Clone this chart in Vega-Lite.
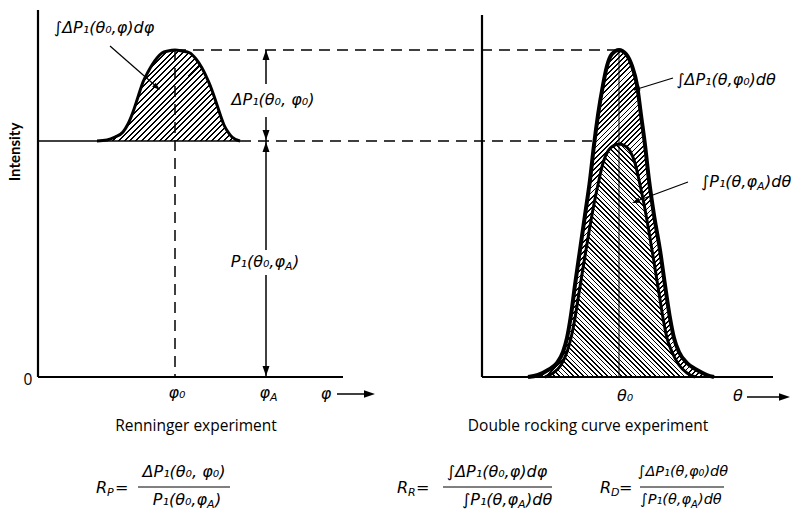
{
"$schema":"https://vega.github.io/schema/vega-lite/v6.json",
"width":795,"height":511,
"autosize":{"type":"fit","contains":"padding"},
"padding":0,
"background":"white",
"config":{"view":{"stroke":null}},
"params":[{"name":"hatch","value":[
{"offset":0,"color":"#000"},{"offset":0.0035,"color":"#000"},{"offset":0.0035,"color":"#fff"},{"offset":0.01,"color":"#fff"},
{"offset":0.01,"color":"#000"},{"offset":0.0135,"color":"#000"},{"offset":0.0135,"color":"#fff"},{"offset":0.02,"color":"#fff"},
{"offset":0.02,"color":"#000"},{"offset":0.0235,"color":"#000"},{"offset":0.0235,"color":"#fff"},{"offset":0.03,"color":"#fff"},
{"offset":0.03,"color":"#000"},{"offset":0.0335,"color":"#000"},{"offset":0.0335,"color":"#fff"},{"offset":0.04,"color":"#fff"},
{"offset":0.04,"color":"#000"},{"offset":0.0435,"color":"#000"},{"offset":0.0435,"color":"#fff"},{"offset":0.05,"color":"#fff"},
{"offset":0.05,"color":"#000"},{"offset":0.0535,"color":"#000"},{"offset":0.0535,"color":"#fff"},{"offset":0.06,"color":"#fff"},
{"offset":0.06,"color":"#000"},{"offset":0.0635,"color":"#000"},{"offset":0.0635,"color":"#fff"},{"offset":0.07,"color":"#fff"},
{"offset":0.07,"color":"#000"},{"offset":0.0735,"color":"#000"},{"offset":0.0735,"color":"#fff"},{"offset":0.08,"color":"#fff"},
{"offset":0.08,"color":"#000"},{"offset":0.0835,"color":"#000"},{"offset":0.0835,"color":"#fff"},{"offset":0.09,"color":"#fff"},
{"offset":0.09,"color":"#000"},{"offset":0.0935,"color":"#000"},{"offset":0.0935,"color":"#fff"},{"offset":0.1,"color":"#fff"},
{"offset":0.1,"color":"#000"},{"offset":0.1035,"color":"#000"},{"offset":0.1035,"color":"#fff"},{"offset":0.11,"color":"#fff"},
{"offset":0.11,"color":"#000"},{"offset":0.1135,"color":"#000"},{"offset":0.1135,"color":"#fff"},{"offset":0.12,"color":"#fff"},
{"offset":0.12,"color":"#000"},{"offset":0.1235,"color":"#000"},{"offset":0.1235,"color":"#fff"},{"offset":0.13,"color":"#fff"},
{"offset":0.13,"color":"#000"},{"offset":0.1335,"color":"#000"},{"offset":0.1335,"color":"#fff"},{"offset":0.14,"color":"#fff"},
{"offset":0.14,"color":"#000"},{"offset":0.1435,"color":"#000"},{"offset":0.1435,"color":"#fff"},{"offset":0.15,"color":"#fff"},
{"offset":0.15,"color":"#000"},{"offset":0.1535,"color":"#000"},{"offset":0.1535,"color":"#fff"},{"offset":0.16,"color":"#fff"},
{"offset":0.16,"color":"#000"},{"offset":0.1635,"color":"#000"},{"offset":0.1635,"color":"#fff"},{"offset":0.17,"color":"#fff"},
{"offset":0.17,"color":"#000"},{"offset":0.1735,"color":"#000"},{"offset":0.1735,"color":"#fff"},{"offset":0.18,"color":"#fff"},
{"offset":0.18,"color":"#000"},{"offset":0.1835,"color":"#000"},{"offset":0.1835,"color":"#fff"},{"offset":0.19,"color":"#fff"},
{"offset":0.19,"color":"#000"},{"offset":0.1935,"color":"#000"},{"offset":0.1935,"color":"#fff"},{"offset":0.2,"color":"#fff"},
{"offset":0.2,"color":"#000"},{"offset":0.2035,"color":"#000"},{"offset":0.2035,"color":"#fff"},{"offset":0.21,"color":"#fff"},
{"offset":0.21,"color":"#000"},{"offset":0.2135,"color":"#000"},{"offset":0.2135,"color":"#fff"},{"offset":0.22,"color":"#fff"},
{"offset":0.22,"color":"#000"},{"offset":0.2235,"color":"#000"},{"offset":0.2235,"color":"#fff"},{"offset":0.23,"color":"#fff"},
{"offset":0.23,"color":"#000"},{"offset":0.2335,"color":"#000"},{"offset":0.2335,"color":"#fff"},{"offset":0.24,"color":"#fff"},
{"offset":0.24,"color":"#000"},{"offset":0.2435,"color":"#000"},{"offset":0.2435,"color":"#fff"},{"offset":0.25,"color":"#fff"},
{"offset":0.25,"color":"#000"},{"offset":0.2535,"color":"#000"},{"offset":0.2535,"color":"#fff"},{"offset":0.26,"color":"#fff"},
{"offset":0.26,"color":"#000"},{"offset":0.2635,"color":"#000"},{"offset":0.2635,"color":"#fff"},{"offset":0.27,"color":"#fff"},
{"offset":0.27,"color":"#000"},{"offset":0.2735,"color":"#000"},{"offset":0.2735,"color":"#fff"},{"offset":0.28,"color":"#fff"},
{"offset":0.28,"color":"#000"},{"offset":0.2835,"color":"#000"},{"offset":0.2835,"color":"#fff"},{"offset":0.29,"color":"#fff"},
{"offset":0.29,"color":"#000"},{"offset":0.2935,"color":"#000"},{"offset":0.2935,"color":"#fff"},{"offset":0.3,"color":"#fff"},
{"offset":0.3,"color":"#000"},{"offset":0.3035,"color":"#000"},{"offset":0.3035,"color":"#fff"},{"offset":0.31,"color":"#fff"},
{"offset":0.31,"color":"#000"},{"offset":0.3135,"color":"#000"},{"offset":0.3135,"color":"#fff"},{"offset":0.32,"color":"#fff"},
{"offset":0.32,"color":"#000"},{"offset":0.3235,"color":"#000"},{"offset":0.3235,"color":"#fff"},{"offset":0.33,"color":"#fff"},
{"offset":0.33,"color":"#000"},{"offset":0.3335,"color":"#000"},{"offset":0.3335,"color":"#fff"},{"offset":0.34,"color":"#fff"},
{"offset":0.34,"color":"#000"},{"offset":0.3435,"color":"#000"},{"offset":0.3435,"color":"#fff"},{"offset":0.35,"color":"#fff"},
{"offset":0.35,"color":"#000"},{"offset":0.3535,"color":"#000"},{"offset":0.3535,"color":"#fff"},{"offset":0.36,"color":"#fff"},
{"offset":0.36,"color":"#000"},{"offset":0.3635,"color":"#000"},{"offset":0.3635,"color":"#fff"},{"offset":0.37,"color":"#fff"},
{"offset":0.37,"color":"#000"},{"offset":0.3735,"color":"#000"},{"offset":0.3735,"color":"#fff"},{"offset":0.38,"color":"#fff"},
{"offset":0.38,"color":"#000"},{"offset":0.3835,"color":"#000"},{"offset":0.3835,"color":"#fff"},{"offset":0.39,"color":"#fff"},
{"offset":0.39,"color":"#000"},{"offset":0.3935,"color":"#000"},{"offset":0.3935,"color":"#fff"},{"offset":0.4,"color":"#fff"},
{"offset":0.4,"color":"#000"},{"offset":0.4035,"color":"#000"},{"offset":0.4035,"color":"#fff"},{"offset":0.41,"color":"#fff"},
{"offset":0.41,"color":"#000"},{"offset":0.4135,"color":"#000"},{"offset":0.4135,"color":"#fff"},{"offset":0.42,"color":"#fff"},
{"offset":0.42,"color":"#000"},{"offset":0.4235,"color":"#000"},{"offset":0.4235,"color":"#fff"},{"offset":0.43,"color":"#fff"},
{"offset":0.43,"color":"#000"},{"offset":0.4335,"color":"#000"},{"offset":0.4335,"color":"#fff"},{"offset":0.44,"color":"#fff"},
{"offset":0.44,"color":"#000"},{"offset":0.4435,"color":"#000"},{"offset":0.4435,"color":"#fff"},{"offset":0.45,"color":"#fff"},
{"offset":0.45,"color":"#000"},{"offset":0.4535,"color":"#000"},{"offset":0.4535,"color":"#fff"},{"offset":0.46,"color":"#fff"},
{"offset":0.46,"color":"#000"},{"offset":0.4635,"color":"#000"},{"offset":0.4635,"color":"#fff"},{"offset":0.47,"color":"#fff"},
{"offset":0.47,"color":"#000"},{"offset":0.4735,"color":"#000"},{"offset":0.4735,"color":"#fff"},{"offset":0.48,"color":"#fff"},
{"offset":0.48,"color":"#000"},{"offset":0.4835,"color":"#000"},{"offset":0.4835,"color":"#fff"},{"offset":0.49,"color":"#fff"},
{"offset":0.49,"color":"#000"},{"offset":0.4935,"color":"#000"},{"offset":0.4935,"color":"#fff"},{"offset":0.5,"color":"#fff"},
{"offset":0.5,"color":"#000"},{"offset":0.5035,"color":"#000"},{"offset":0.5035,"color":"#fff"},{"offset":0.51,"color":"#fff"},
{"offset":0.51,"color":"#000"},{"offset":0.5135,"color":"#000"},{"offset":0.5135,"color":"#fff"},{"offset":0.52,"color":"#fff"},
{"offset":0.52,"color":"#000"},{"offset":0.5235,"color":"#000"},{"offset":0.5235,"color":"#fff"},{"offset":0.53,"color":"#fff"},
{"offset":0.53,"color":"#000"},{"offset":0.5335,"color":"#000"},{"offset":0.5335,"color":"#fff"},{"offset":0.54,"color":"#fff"},
{"offset":0.54,"color":"#000"},{"offset":0.5435,"color":"#000"},{"offset":0.5435,"color":"#fff"},{"offset":0.55,"color":"#fff"},
{"offset":0.55,"color":"#000"},{"offset":0.5535,"color":"#000"},{"offset":0.5535,"color":"#fff"},{"offset":0.56,"color":"#fff"},
{"offset":0.56,"color":"#000"},{"offset":0.5635,"color":"#000"},{"offset":0.5635,"color":"#fff"},{"offset":0.57,"color":"#fff"},
{"offset":0.57,"color":"#000"},{"offset":0.5735,"color":"#000"},{"offset":0.5735,"color":"#fff"},{"offset":0.58,"color":"#fff"},
{"offset":0.58,"color":"#000"},{"offset":0.5835,"color":"#000"},{"offset":0.5835,"color":"#fff"},{"offset":0.59,"color":"#fff"},
{"offset":0.59,"color":"#000"},{"offset":0.5935,"color":"#000"},{"offset":0.5935,"color":"#fff"},{"offset":0.6,"color":"#fff"},
{"offset":0.6,"color":"#000"},{"offset":0.6035,"color":"#000"},{"offset":0.6035,"color":"#fff"},{"offset":0.61,"color":"#fff"},
{"offset":0.61,"color":"#000"},{"offset":0.6135,"color":"#000"},{"offset":0.6135,"color":"#fff"},{"offset":0.62,"color":"#fff"},
{"offset":0.62,"color":"#000"},{"offset":0.6235,"color":"#000"},{"offset":0.6235,"color":"#fff"},{"offset":0.63,"color":"#fff"},
{"offset":0.63,"color":"#000"},{"offset":0.6335,"color":"#000"},{"offset":0.6335,"color":"#fff"},{"offset":0.64,"color":"#fff"},
{"offset":0.64,"color":"#000"},{"offset":0.6435,"color":"#000"},{"offset":0.6435,"color":"#fff"},{"offset":0.65,"color":"#fff"},
{"offset":0.65,"color":"#000"},{"offset":0.6535,"color":"#000"},{"offset":0.6535,"color":"#fff"},{"offset":0.66,"color":"#fff"},
{"offset":0.66,"color":"#000"},{"offset":0.6635,"color":"#000"},{"offset":0.6635,"color":"#fff"},{"offset":0.67,"color":"#fff"},
{"offset":0.67,"color":"#000"},{"offset":0.6735,"color":"#000"},{"offset":0.6735,"color":"#fff"},{"offset":0.68,"color":"#fff"},
{"offset":0.68,"color":"#000"},{"offset":0.6835,"color":"#000"},{"offset":0.6835,"color":"#fff"},{"offset":0.69,"color":"#fff"},
{"offset":0.69,"color":"#000"},{"offset":0.6935,"color":"#000"},{"offset":0.6935,"color":"#fff"},{"offset":0.7,"color":"#fff"},
{"offset":0.7,"color":"#000"},{"offset":0.7035,"color":"#000"},{"offset":0.7035,"color":"#fff"},{"offset":0.71,"color":"#fff"},
{"offset":0.71,"color":"#000"},{"offset":0.7135,"color":"#000"},{"offset":0.7135,"color":"#fff"},{"offset":0.72,"color":"#fff"},
{"offset":0.72,"color":"#000"},{"offset":0.7235,"color":"#000"},{"offset":0.7235,"color":"#fff"},{"offset":0.73,"color":"#fff"},
{"offset":0.73,"color":"#000"},{"offset":0.7335,"color":"#000"},{"offset":0.7335,"color":"#fff"},{"offset":0.74,"color":"#fff"},
{"offset":0.74,"color":"#000"},{"offset":0.7435,"color":"#000"},{"offset":0.7435,"color":"#fff"},{"offset":0.75,"color":"#fff"},
{"offset":0.75,"color":"#000"},{"offset":0.7535,"color":"#000"},{"offset":0.7535,"color":"#fff"},{"offset":0.76,"color":"#fff"},
{"offset":0.76,"color":"#000"},{"offset":0.7635,"color":"#000"},{"offset":0.7635,"color":"#fff"},{"offset":0.77,"color":"#fff"},
{"offset":0.77,"color":"#000"},{"offset":0.7735,"color":"#000"},{"offset":0.7735,"color":"#fff"},{"offset":0.78,"color":"#fff"},
{"offset":0.78,"color":"#000"},{"offset":0.7835,"color":"#000"},{"offset":0.7835,"color":"#fff"},{"offset":0.79,"color":"#fff"},
{"offset":0.79,"color":"#000"},{"offset":0.7935,"color":"#000"},{"offset":0.7935,"color":"#fff"},{"offset":0.8,"color":"#fff"},
{"offset":0.8,"color":"#000"},{"offset":0.8035,"color":"#000"},{"offset":0.8035,"color":"#fff"},{"offset":0.81,"color":"#fff"},
{"offset":0.81,"color":"#000"},{"offset":0.8135,"color":"#000"},{"offset":0.8135,"color":"#fff"},{"offset":0.82,"color":"#fff"},
{"offset":0.82,"color":"#000"},{"offset":0.8235,"color":"#000"},{"offset":0.8235,"color":"#fff"},{"offset":0.83,"color":"#fff"},
{"offset":0.83,"color":"#000"},{"offset":0.8335,"color":"#000"},{"offset":0.8335,"color":"#fff"},{"offset":0.84,"color":"#fff"},
{"offset":0.84,"color":"#000"},{"offset":0.8435,"color":"#000"},{"offset":0.8435,"color":"#fff"},{"offset":0.85,"color":"#fff"},
{"offset":0.85,"color":"#000"},{"offset":0.8535,"color":"#000"},{"offset":0.8535,"color":"#fff"},{"offset":0.86,"color":"#fff"},
{"offset":0.86,"color":"#000"},{"offset":0.8635,"color":"#000"},{"offset":0.8635,"color":"#fff"},{"offset":0.87,"color":"#fff"},
{"offset":0.87,"color":"#000"},{"offset":0.8735,"color":"#000"},{"offset":0.8735,"color":"#fff"},{"offset":0.88,"color":"#fff"},
{"offset":0.88,"color":"#000"},{"offset":0.8835,"color":"#000"},{"offset":0.8835,"color":"#fff"},{"offset":0.89,"color":"#fff"},
{"offset":0.89,"color":"#000"},{"offset":0.8935,"color":"#000"},{"offset":0.8935,"color":"#fff"},{"offset":0.9,"color":"#fff"},
{"offset":0.9,"color":"#000"},{"offset":0.9035,"color":"#000"},{"offset":0.9035,"color":"#fff"},{"offset":0.91,"color":"#fff"},
{"offset":0.91,"color":"#000"},{"offset":0.9135,"color":"#000"},{"offset":0.9135,"color":"#fff"},{"offset":0.92,"color":"#fff"},
{"offset":0.92,"color":"#000"},{"offset":0.9235,"color":"#000"},{"offset":0.9235,"color":"#fff"},{"offset":0.93,"color":"#fff"},
{"offset":0.93,"color":"#000"},{"offset":0.9335,"color":"#000"},{"offset":0.9335,"color":"#fff"},{"offset":0.94,"color":"#fff"},
{"offset":0.94,"color":"#000"},{"offset":0.9435,"color":"#000"},{"offset":0.9435,"color":"#fff"},{"offset":0.95,"color":"#fff"},
{"offset":0.95,"color":"#000"},{"offset":0.9535,"color":"#000"},{"offset":0.9535,"color":"#fff"},{"offset":0.96,"color":"#fff"},
{"offset":0.96,"color":"#000"},{"offset":0.9635,"color":"#000"},{"offset":0.9635,"color":"#fff"},{"offset":0.97,"color":"#fff"},
{"offset":0.97,"color":"#000"},{"offset":0.9735,"color":"#000"},{"offset":0.9735,"color":"#fff"},{"offset":0.98,"color":"#fff"},
{"offset":0.98,"color":"#000"},{"offset":0.9835,"color":"#000"},{"offset":0.9835,"color":"#fff"},{"offset":0.99,"color":"#fff"},
{"offset":0.99,"color":"#000"},{"offset":0.9935,"color":"#000"},{"offset":0.9935,"color":"#fff"},{"offset":1,"color":"#fff"}
]}],
"datasets":{
"left":[{"x":97,"y":2.36},{"x":107,"y":2.37},{"x":115,"y":2.40},{"x":123,"y":2.45},{"x":128,"y":2.53},{"x":133,"y":2.65},{"x":138,"y":2.80},{"x":143,"y":2.95},{"x":148,"y":3.05},{"x":152,"y":3.12},{"x":157,"y":3.19},{"x":162,"y":3.24},{"x":168,"y":3.26},{"x":175,"y":3.27},{"x":182,"y":3.26},{"x":190,"y":3.24},{"x":196,"y":3.18},{"x":202,"y":3.09},{"x":206,"y":3.01},{"x":210,"y":2.92},{"x":214,"y":2.81},{"x":218,"y":2.69},{"x":221,"y":2.60},{"x":224,"y":2.52},{"x":228,"y":2.45},{"x":232,"y":2.40},{"x":240,"y":2.36}],
"outer":[{"x":528,"y":0},{"x":538,"y":0.02},{"x":548,"y":0.07},{"x":557,"y":0.14},{"x":563,"y":0.25},{"x":567,"y":0.39},{"x":571,"y":0.62},{"x":575,"y":0.92},{"x":580,"y":1.27},{"x":585,"y":1.62},{"x":590,"y":1.97},{"x":594,"y":2.32},{"x":598,"y":2.62},{"x":603,"y":2.92},{"x":607,"y":3.11},{"x":612,"y":3.23},{"x":619,"y":3.27},{"x":626,"y":3.23},{"x":632,"y":3.11},{"x":637,"y":2.92},{"x":641,"y":2.62},{"x":645,"y":2.32},{"x":649,"y":1.97},{"x":654,"y":1.62},{"x":660,"y":1.27},{"x":665,"y":0.92},{"x":670,"y":0.59},{"x":674,"y":0.39},{"x":679,"y":0.25},{"x":687,"y":0.14},{"x":697,"y":0.07},{"x":707,"y":0.02},{"x":714,"y":0}],
"inner":[{"x":545,"y":0},{"x":553,"y":0.04},{"x":561,"y":0.12},{"x":567,"y":0.25},{"x":571,"y":0.39},{"x":575,"y":0.59},{"x":579,"y":0.84},{"x":584,"y":1.15},{"x":589,"y":1.45},{"x":594,"y":1.73},{"x":599,"y":1.97},{"x":603,"y":2.14},{"x":608,"y":2.26},{"x":613,"y":2.31},{"x":619,"y":2.33},{"x":625,"y":2.31},{"x":630,"y":2.26},{"x":635,"y":2.14},{"x":639,"y":1.97},{"x":644,"y":1.73},{"x":649,"y":1.45},{"x":654,"y":1.15},{"x":659,"y":0.84},{"x":663,"y":0.59},{"x":667,"y":0.39},{"x":672,"y":0.25},{"x":679,"y":0.12},{"x":687,"y":0.04},{"x":695,"y":0}],
"thick":[{"x":38,"y":3.67,"x2":38,"y2":0},{"x":38,"y":0,"x2":343,"y2":0},{"x":482,"y":3.62,"x2":482,"y2":0},{"x":482,"y":0,"x2":773,"y2":0}],
"medium":[{"x":38,"y":2.36,"x2":240,"y2":2.36},{"x":266,"y":3.27,"x2":266,"y2":2.93},{"x":266,"y":2.60,"x2":266,"y2":2.36},{"x":266,"y":2.36,"x2":266,"y2":1.27},{"x":266,"y":1.02,"x2":266,"y2":0},{"x":337,"y":-0.17,"x2":372,"y2":-0.17},{"x":747,"y":-0.2,"x2":786,"y2":-0.2}],
"leaders":[{"x":110,"y":3.31,"x2":158,"y2":2.89},{"x":673,"y":2.99,"x2":634,"y2":2.87},{"x":688,"y":1.95,"x2":634,"y2":1.75}],
"thin":[{"x":619,"y":3.27,"x2":619,"y2":0},{"x":138,"y":-1.10,"x2":230,"y2":-1.10},{"x":443,"y":-1.10,"x2":552,"y2":-1.10},{"x":640,"y":-1.10,"x2":724,"y2":-1.10}],
"dashed":[{"x":175,"y":3.27,"x2":619,"y2":3.27},{"x":240,"y":2.36,"x2":592,"y2":2.36},{"x":175,"y":3.27,"x2":175,"y2":0}],
"up":[{"x":266,"y":3.27},{"x":266,"y":2.35}],
"down":[{"x":266,"y":2.37},{"x":266,"y":0.01}],
"right":[{"x":375,"y":-0.17},{"x":790,"y":-0.2}],
"math":[{"x":104,"y":3.49,"t":"∫ΔP₁(θ₀,φ)dφ"},{"x":273,"y":2.77,"t":"ΔP₁(θ₀, φ₀)"},{"x":726,"y":2.97,"t":"∫ΔP₁(θ,φ₀)dθ"},{"x":184,"y":-0.95,"t":"ΔP₁(θ₀, φ₀)"},{"x":497,"y":-0.95,"t":"∫ΔP₁(θ₀,φ)dφ"}],
"mathsmall":[{"x":683,"y":-0.95,"t":"∫ΔP₁(θ,φ₀)dθ"}],
"ticks":[{"x":177,"y":-0.16,"t":"φ₀"},{"x":625,"y":-0.19,"t":"θ₀"},{"x":326,"y":-0.17,"t":"φ"},{"x":738,"y":-0.19,"t":"θ"}],
"msub":[{"x":285,"y":1.15,"pre":"P₁(θ₀,φ","sub":"A","post":")"},{"x":270,"y":-0.16,"pre":"φ","sub":"A","post":""},{"x":207,"y":-1.23,"pre":"P₁(θ₀,φ","sub":"A","post":")"},{"x":757,"y":1.95,"pre":"∫P₁(θ,φ","sub":"A","post":")dθ"},{"x":518,"y":-1.23,"pre":"∫P₁(θ,φ","sub":"A","post":")dθ"},{"x":107,"y":-1.11,"pre":"R","sub":"P","post":"="},{"x":408,"y":-1.11,"pre":"R","sub":"R","post":" ="},{"x":611,"y":-1.11,"pre":"R","sub":"D","post":"="}],
"msubsmall":[{"x":691,"y":-1.23,"pre":"∫P₁(θ,φ","sub":"A","post":")dθ"}],
"labels":[{"x":196,"y":-0.49,"t":"Renninger experiment"},{"x":588,"y":-0.49,"t":"Double rocking curve experiment"},{"x":28,"y":-0.03,"t":"0"}],
"ylabel":[{"x":15,"y":2.25,"t":"Intensity"}]
},
"encoding":{
"x":{"field":"x","type":"quantitative","scale":{"domain":[0,795],"nice":false,"zero":false},"axis":null},
"y":{"field":"y","type":"quantitative","scale":{"domain":[-1.34,3.77],"nice":false,"zero":false},"axis":null}
},
"layer":[
{"data":{"name":"outer"},"mark":{"type":"area","interpolate":"monotone","fill":{"expr":"{gradient:'linear',x1:0,y1:0,x2:0.6742,y2:1.1853,stops:hatch}"}},"encoding":{"y2":{"datum":0}}},
{"data":{"name":"inner"},"mark":{"type":"area","interpolate":"monotone","fill":{"expr":"{gradient:'linear',x1:0,y1:1,x2:0.9377,y2:-0.4565,stops:hatch}"}},"encoding":{"y2":{"datum":0}}},
{"data":{"name":"left"},"mark":{"type":"area","interpolate":"monotone","fill":{"expr":"{gradient:'linear',x1:0,y1:0,x2:2.9118,y2:1.8529,stops:hatch}"}},"encoding":{"y2":{"datum":2.36}}},
{"data":{"name":"outer"},"mark":{"type":"line","interpolate":"monotone","color":"#000","strokeWidth":4},"encoding":{}},
{"data":{"name":"inner"},"mark":{"type":"line","interpolate":"monotone","color":"#000","strokeWidth":3},"encoding":{}},
{"data":{"name":"left"},"mark":{"type":"line","interpolate":"monotone","color":"#000","strokeWidth":3},"encoding":{}},
{"data":{"name":"thin"},"mark":{"type":"rule","color":"#000","strokeWidth":1},"encoding":{"x2":{"field":"x2"},"y2":{"field":"y2"}}},
{"data":{"name":"dashed"},"mark":{"type":"rule","color":"#000","strokeWidth":1.5,"strokeDash":[11,7]},"encoding":{"x2":{"field":"x2"},"y2":{"field":"y2"}}},
{"data":{"name":"thick"},"mark":{"type":"rule","color":"#000","strokeWidth":2.2},"encoding":{"x2":{"field":"x2"},"y2":{"field":"y2"}}},
{"data":{"name":"medium"},"mark":{"type":"rule","color":"#000","strokeWidth":1.5},"encoding":{"x2":{"field":"x2"},"y2":{"field":"y2"}}},
{"data":{"name":"leaders"},"mark":{"type":"rule","color":"#000","strokeWidth":1.2},"encoding":{"x2":{"field":"x2"},"y2":{"field":"y2"}}},
{"data":{"name":"up"},"mark":{"type":"point","filled":true,"opacity":1,"color":"#000","size":400,"shape":"M0,0L-0.35,1L0.35,1Z","angle":0}},
{"data":{"name":"down"},"mark":{"type":"point","filled":true,"opacity":1,"color":"#000","size":400,"shape":"M0,0L-0.35,1L0.35,1Z","angle":180}},
{"data":{"name":"right"},"mark":{"type":"point","filled":true,"opacity":1,"color":"#000","size":484,"shape":"M0,0L-0.33,1L0.33,1Z","angle":90}},
{"data":{"values":[{"x":160,"y":2.87}]},"mark":{"type":"point","filled":true,"opacity":1,"color":"#000","size":256,"shape":"M0,0L-0.35,1L0.35,1Z","angle":131}},
{"data":{"values":[{"x":632,"y":2.87}]},"mark":{"type":"point","filled":true,"opacity":1,"color":"#000","size":256,"shape":"M0,0L-0.35,1L0.35,1Z","angle":254}},
{"data":{"values":[{"x":632,"y":1.74}]},"mark":{"type":"point","filled":true,"opacity":1,"color":"#000","size":256,"shape":"M0,0L-0.35,1L0.35,1Z","angle":249}},
{"data":{"name":"math"},"mark":{"type":"text","font":"DejaVu Sans","fontStyle":"italic","fontSize":16,"align":"center","baseline":"middle","color":"#000"},"encoding":{"text":{"field":"t","type":"nominal"}}},
{"data":{"name":"mathsmall"},"mark":{"type":"text","font":"DejaVu Sans","fontStyle":"italic","fontSize":14.5,"align":"center","baseline":"middle","color":"#000"},"encoding":{"text":{"field":"t","type":"nominal"}}},
{"data":{"name":"ticks"},"mark":{"type":"text","font":"DejaVu Sans","fontStyle":"italic","fontSize":16,"align":"center","baseline":"middle","color":"#000"},"encoding":{"text":{"field":"t","type":"nominal"}}},
{"data":{"name":"msub"},"mark":{"type":"text","font":"DejaVu Sans","fontStyle":"italic","fontSize":16,"align":"right","baseline":"middle","color":"#000"},"encoding":{"text":{"field":"pre","type":"nominal"}}},
{"data":{"name":"msub"},"mark":{"type":"text","font":"DejaVu Sans","fontStyle":"italic","fontSize":11,"align":"left","baseline":"middle","dy":5,"color":"#000"},"encoding":{"text":{"field":"sub","type":"nominal"}}},
{"data":{"name":"msub"},"mark":{"type":"text","font":"DejaVu Sans","fontStyle":"italic","fontSize":16,"align":"left","baseline":"middle","dx":8,"color":"#000"},"encoding":{"text":{"field":"post","type":"nominal"}}},
{"data":{"name":"msubsmall"},"mark":{"type":"text","font":"DejaVu Sans","fontStyle":"italic","fontSize":14.5,"align":"right","baseline":"middle","color":"#000"},"encoding":{"text":{"field":"pre","type":"nominal"}}},
{"data":{"name":"msubsmall"},"mark":{"type":"text","font":"DejaVu Sans","fontStyle":"italic","fontSize":10,"align":"left","baseline":"middle","dy":5,"color":"#000"},"encoding":{"text":{"field":"sub","type":"nominal"}}},
{"data":{"name":"msubsmall"},"mark":{"type":"text","font":"DejaVu Sans","fontStyle":"italic","fontSize":14.5,"align":"left","baseline":"middle","dx":7,"color":"#000"},"encoding":{"text":{"field":"post","type":"nominal"}}},
{"data":{"name":"labels"},"mark":{"type":"text","font":"Open Sans","fontSize":15.5,"align":"center","baseline":"middle","color":"#000"},"encoding":{"text":{"field":"t","type":"nominal"}}},
{"data":{"name":"ylabel"},"mark":{"type":"text","font":"Lato","fontWeight":"bold","fontSize":15,"angle":270,"align":"center","baseline":"middle","color":"#000"},"encoding":{"text":{"field":"t","type":"nominal"}}}
]
}
